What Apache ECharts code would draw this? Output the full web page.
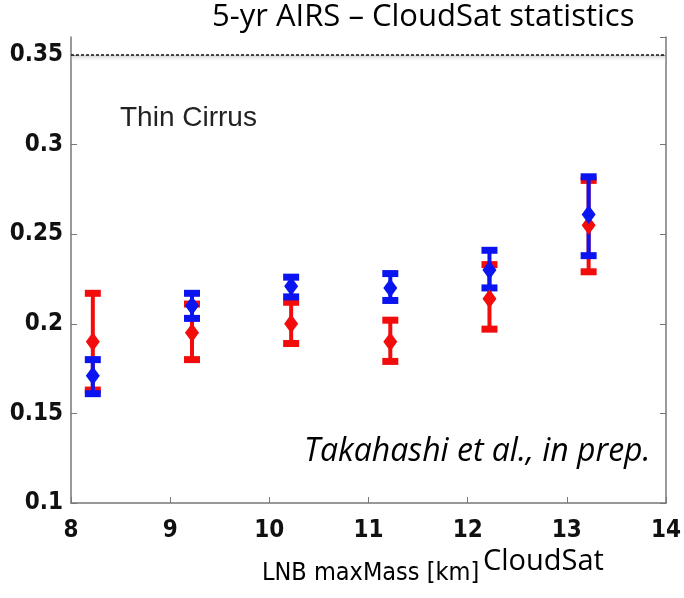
<!DOCTYPE html>
<html>
<head>
<meta charset="utf-8">
<script src="https://cdn.jsdelivr.net/npm/echarts@6/dist/echarts.min.js"></script>
<style>
  html, body { margin: 0; padding: 0; background: #fff; }
  #chart { width: 684px; height: 598px; }
</style>
</head>
<body>
<div id="chart"></div>
<script>
// values
var xPos = [8.22, 9.22, 10.22, 11.22, 12.22, 13.22];
var redMean = [0.190, 0.195, 0.200, 0.190, 0.214, 0.255];
var redLow = [0.163, 0.180, 0.189, 0.179, 0.197, 0.229];
var redHigh = [0.217, 0.211, 0.212, 0.202, 0.233, 0.280];
var blueMean = [0.171, 0.210, 0.221, 0.220, 0.230, 0.261];
var blueLow = [0.161, 0.203, 0.215, 0.213, 0.220, 0.238];
var blueHigh = [0.180, 0.217, 0.226, 0.228, 0.241, 0.282];
var yTicks = [0.1, 0.15, 0.2, 0.25, 0.3, 0.35];

var tickFont = "'Liberation Sans Narrow', 'DejaVu Sans Condensed', 'Liberation Sans', sans-serif";

function barData (mean, low, high) {
  return xPos.map(function (x, i) { return [x, low[i], high[i], mean[i]]; });
}

// error bar: vertical line + thick caps
function errorBar (color) {
  return function (params, api) {
    var lo = api.coord([api.value(0), api.value(1)]);
    var hi = api.coord([api.value(0), api.value(2)]);
    var capW = 16, capH = 7;
    return {
      type: 'group',
      children: [
        { type: 'line', shape: { x1: lo[0], y1: lo[1], x2: hi[0], y2: hi[1] },
          style: { stroke: color, lineWidth: 4 } },
        { type: 'rect', shape: { x: lo[0] - capW / 2, y: lo[1] - capH / 2, width: capW, height: capH },
          style: { fill: color } },
        { type: 'rect', shape: { x: hi[0] - capW / 2, y: hi[1] - capH / 2, width: capW, height: capH },
          style: { fill: color } }
      ]
    };
  };
}

var chart = echarts.init(document.getElementById('chart'));

var option = {
  animation: false,
  backgroundColor: '#fff',
  grid: { left: 71, right: 13, top: 37, bottom: 95 },
  xAxis: {
    type: 'value',
    min: 8, max: 14, interval: 1,
    splitLine: { show: false },
    axisLine: { lineStyle: { color: '#777', width: 1.5 } },
    axisTick: { inside: true, length: 6, lineStyle: { color: '#777' } },
    axisLabel: { color: '#111', fontSize: 24, fontFamily: tickFont, fontWeight: 'bold', margin: 16 }
  },
  yAxis: [
    {
      type: 'value',
      min: 0.1, max: 0.36, interval: 0.05,
      splitLine: { show: false },
      axisLine: { show: true, lineStyle: { color: '#777', width: 1.5 } },
      axisTick: { inside: true, length: 6, lineStyle: { color: '#777' } },
      axisLabel: {
        color: '#111', fontSize: 24, fontFamily: tickFont, fontWeight: 'bold', margin: 8,
        showMaxLabel: false,
        formatter: function (v) { return yTicks.indexOf(+v.toFixed(2)) >= 0 ? String(+v.toFixed(2)) : ''; }
      }
    },
    {
      type: 'value', position: 'right',
      min: 0.1, max: 0.36, interval: 0.05,
      splitLine: { show: false },
      axisLine: { show: true, lineStyle: { color: '#777', width: 1.5 } },
      axisTick: { inside: true, length: 6, lineStyle: { color: '#777' } },
      axisLabel: { show: false }
    }
  ],
  series: [
    {
      type: 'custom', name: 'red bars',
      renderItem: errorBar('#f20c0c'),
      data: barData(redMean, redLow, redHigh),
      encode: { x: 0, y: [1, 2] },
      markLine: {
        silent: true, symbol: 'none', label: { show: false },
        lineStyle: { color: '#111', type: [3, 2], width: 1.5 },
        data: [{ yAxis: 0.35 }]
      },
      markArea: {
        silent: true,
        itemStyle: {
          color: new echarts.graphic.LinearGradient(0, 0, 0, 1, [
            { offset: 0, color: 'rgba(150,150,150,0.5)' },
            { offset: 1, color: 'rgba(255,255,255,0)' }
          ])
        },
        data: [[{ yAxis: 0.35 }, { yAxis: 0.346 }]]
      }
    },
    {
      type: 'scatter', name: 'red',
      symbol: 'diamond', symbolSize: [14, 19],
      itemStyle: { color: '#f20c0c', opacity: 1 },
      data: xPos.map(function (x, i) { return [x, redMean[i]]; })
    },
    {
      type: 'custom', name: 'blue bars',
      renderItem: errorBar('#0a14f0'),
      data: barData(blueMean, blueLow, blueHigh),
      encode: { x: 0, y: [1, 2] }
    },
    {
      type: 'scatter', name: 'blue',
      symbol: 'diamond', symbolSize: [14, 19],
      itemStyle: { color: '#0a14f0', opacity: 1 },
      data: xPos.map(function (x, i) { return [x, blueMean[i]]; })
    }
  ],
  graphic: [
    { type: 'text', left: 212, top: 2,
      style: { text: '5-yr AIRS \u2013 CloudSat statistics', fill: '#000', font: "31px 'Open Sans', sans-serif" } },
    { type: 'text', left: 120, top: 104,
      style: { text: 'Thin Cirrus', fill: '#222', font: "28px 'Liberation Sans', sans-serif" } },
    { type: 'text', left: 304, top: 436,
      style: { text: 'Takahashi et al., in prep.', fill: '#000', font: "italic 32px 'Open Sans', sans-serif" } },
    { type: 'text', left: 262, top: 561,
      style: { text: 'LNB maxMass [km]', fill: '#000', font: "25px 'Liberation Sans Narrow', 'DejaVu Sans Condensed', 'Liberation Sans', sans-serif" } },
    { type: 'text', left: 483, top: 547,
      style: { text: 'CloudSat', fill: '#000', font: "29px 'Open Sans', sans-serif" } }
  ]
};

chart.setOption(option);
</script>
</body>
</html>
